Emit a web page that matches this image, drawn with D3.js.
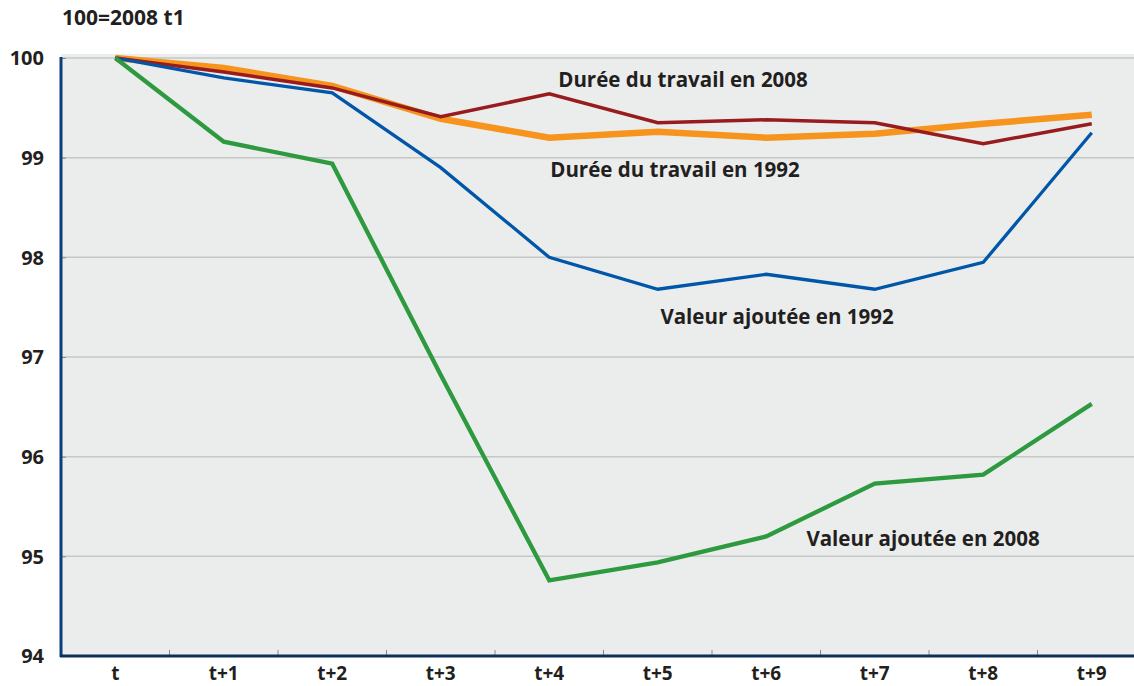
<!DOCTYPE html>
<html>
<head>
<meta charset="utf-8">
<script src="https://cdn.jsdelivr.net/npm/d3@7"></script>
<style>
  body { margin: 0; background: #fff; }
  text { font-family: "Open Sans", sans-serif; font-weight: 700; fill: #231f20; }
</style>
</head>
<body>
<div class="chart"></div>
<script>
// categories and series
var periods = ["t", "t+1", "t+2", "t+3", "t+4", "t+5", "t+6", "t+7", "t+8", "t+9"];
var yTicks = [94, 95, 96, 97, 98, 99, 100];

var valeur2008 = [100, 99.16, 98.94, 96.82, 94.76, 94.94, 95.20, 95.73, 95.82, 96.53];
var valeur1992 = [100, 99.80, 99.65, 98.90, 98.00, 97.68, 97.83, 97.68, 97.95, 99.25];
var duree2008 = [100, 99.86, 99.70, 99.41, 99.64, 99.35, 99.38, 99.35, 99.14, 99.34];
var duree1992 = [100, 99.90, 99.72, 99.39, 99.20, 99.26, 99.20, 99.24, 99.34, 99.43];

var width = 1134, height = 686;

var svg = d3.select("div.chart")
    .append("svg")
    .attr("width", width)
    .attr("height", height);

// scales
var x = d3.scaleBand()
    .domain(periods)
    .range([61, 1146]);

var y = d3.scaleLinear()
    .domain([94, 100])
    .range([656, 58]);

// plot background
svg.append("rect")
    .attr("x", 61)
    .attr("y", 54)
    .attr("width", width - 61)
    .attr("height", 656 - 54)
    .attr("fill", "#ebeded");

// horizontal grid
svg.selectAll("line.grid")
    .data(yTicks.filter(function (d) { return d > 94; }))
    .enter()
    .append("line")
    .attr("class", "grid")
    .attr("x1", 61)
    .attr("x2", width)
    .attr("y1", function (d) { return y(d); })
    .attr("y2", function (d) { return y(d); })
    .attr("stroke", "#c6c7c7")
    .attr("stroke-width", 1.5);

// y axis
var yAxis = svg.append("g")
    .attr("transform", "translate(61,0)")
    .call(d3.axisRight(y).tickValues(yTicks).tickSize(5).tickFormat(""));
yAxis.select(".domain").remove();
yAxis.selectAll(".tick line").attr("stroke", "#888");

svg.selectAll("text.ylab")
    .data(yTicks)
    .enter()
    .append("text")
    .attr("class", "ylab")
    .attr("x", 44)
    .attr("y", function (d) { return y(d); })
    .attr("dy", "0.36em")
    .attr("text-anchor", "end")
    .style("font-size", "20px")
    .text(function (d) { return d; });

// x axis ticks at band boundaries
var bounds = periods.slice(1).map(function (d) { return x(d); });
svg.selectAll("line.xtick")
    .data([61].concat(bounds))
    .enter()
    .append("line")
    .attr("class", "xtick")
    .attr("x1", function (d) { return d; })
    .attr("x2", function (d) { return d; })
    .attr("y1", 656)
    .attr("y2", 650)
    .attr("stroke", "#888")
    .attr("stroke-width", 1);

svg.selectAll("text.xlab")
    .data(periods)
    .enter()
    .append("text")
    .attr("class", "xlab")
    .attr("x", function (d) { return x(d) + x.bandwidth() / 2; })
    .attr("y", 680)
    .attr("text-anchor", "middle")
    .style("font-size", "19px")
    .text(function (d) { return d; });

// axis lines
svg.append("line")
    .attr("x1", 61).attr("x2", 61)
    .attr("y1", 57).attr("y2", 657)
    .attr("stroke", "#0d3d7a")
    .attr("stroke-width", 3);
svg.append("line")
    .attr("x1", 60).attr("x2", width)
    .attr("y1", 656).attr("y2", 656)
    .attr("stroke", "#0d2f5e")
    .attr("stroke-width", 3);

// lines
var line = d3.line()
    .x(function (d, i) { return x(periods[i]) + x.bandwidth() / 2; })
    .y(function (d) { return y(d); });

var series = [
    { values: duree1992, color: "#f7941d", w: 6.5 },
    { values: duree2008, color: "#981b1e", w: 3.5 },
    { values: valeur1992, color: "#0056a8", w: 3.3 },
    { values: valeur2008, color: "#2e9a3f", w: 4.3 }
];

svg.selectAll("path.serie")
    .data(series)
    .enter()
    .append("path")
    .attr("class", "serie")
    .attr("d", function (d) { return line(d.values); })
    .attr("fill", "none")
    .attr("stroke", function (d) { return d.color; })
    .attr("stroke-width", function (d) { return d.w; })
    .attr("stroke-linejoin", "miter");

// series labels
var labels = [
    { text: "Durée du travail en 2008", x: 683, y: 87 },
    { text: "Durée du travail en 1992", x: 675, y: 177 },
    { text: "Valeur ajoutée en 1992", x: 777, y: 324 },
    { text: "Valeur ajoutée en 2008", x: 923, y: 546 }
];

svg.selectAll("text.label")
    .data(labels)
    .enter()
    .append("text")
    .attr("class", "label")
    .attr("x", function (d) { return d.x; })
    .attr("y", function (d) { return d.y; })
    .attr("text-anchor", "middle")
    .style("font-size", "20.5px")
    .text(function (d) { return d.text; });

// title
svg.append("text")
    .attr("x", 62)
    .attr("y", 25)
    .style("font-size", "21px")
    .text("100=2008 t1");
</script>
</body>
</html>
